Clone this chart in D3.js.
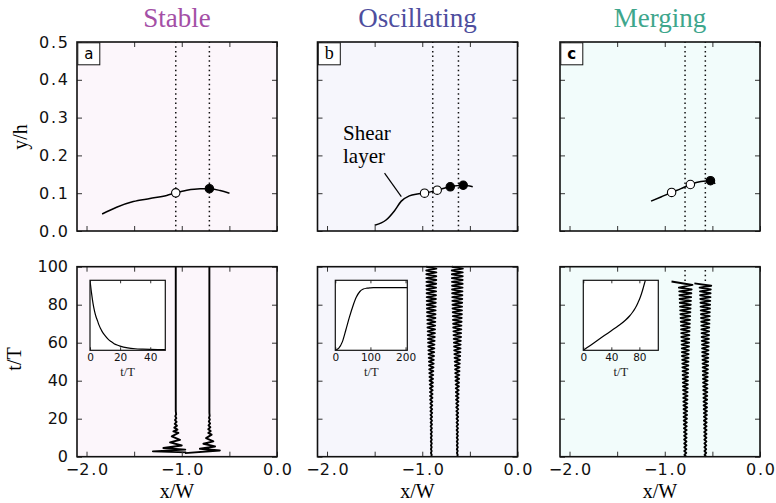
<!DOCTYPE html>
<html><head><meta charset="utf-8">
<script src="https://cdn.jsdelivr.net/npm/d3@7"></script>
<style>body{margin:0;background:#fff}svg{display:block}</style>
</head><body><svg id="chart" width="776" height="503"></svg>
<script>
// ---------------- DATA ----------------
const panelTitles = ["Stable", "Oscillating", "Merging"];
const panelLetters = ["a", "b", "c"];
const xTicks = [-2, -1.5, -1, -0.5, 0];
const xTickLabels = ["−2.0", "", "−1.0", "", "0.0"];
const yTopTicks = [0, 0.1, 0.2, 0.3, 0.4, 0.5];
const yTopTickLabels = ["0.0", "0.1", "0.2", "0.3", "0.4", "0.5"];
const yBotTicks = [0, 20, 40, 60, 80, 100];
const yBotTickLabels = ["0", "20", "40", "60", "80", "100"];

// dotted reference positions (x/W)
const dottedA = [-1.063, -0.71];
const dottedB = [-0.89, -0.62];
const dottedC = [-0.787, -0.574];

// shear layer profiles (x/W, y/h)
const curveAX = [-1.836, -1.684, -1.509, -1.334, -1.158, -1.063, -0.947, -0.807, -0.71, -0.597, -0.499];
const curveAY = [0.045, 0.063, 0.078, 0.086, 0.094, 0.101, 0.108, 0.112, 0.112, 0.107, 0.100];
const curveBX = [-1.50, -1.38, -1.293, -1.22, -1.136, -1.052, -0.976, -0.843, -0.706, -0.57, -0.47];
const curveBY = [0.015, 0.029, 0.053, 0.079, 0.093, 0.098, 0.100, 0.108, 0.117, 0.121, 0.117];
const curveCX = [-1.144, -1.04, -0.928, -0.83, -0.731, -0.62, -0.52, -0.47];
const curveCY = [0.079, 0.090, 0.102, 0.112, 0.123, 0.131, 0.133, 0.125];

// markers: open / filled
const openA = [[-1.063, 0.101]];
const filledA = [[-0.71, 0.112]];
const openB = [[-0.976, 0.100], [-0.843, 0.108]];
const filledB = [[-0.706, 0.117], [-0.57, 0.121]];
const openC = [[-0.928, 0.102], [-0.731, 0.123]];
const filledC = [[-0.52, 0.133]];

// vortex trajectories: centre x/W and zigzag vertices (t/T, offset x/W)
const centersA = [-1.063, -0.71];
const aLeftT = [2.3, 2.8, 3.7, 4.6, 5.9, 7.5, 8.9, 10.7, 12.5, 13.3, 14.3, 15.3, 16.3, 17.3, 18.3, 19.3, 20.3, 21.3, 22.3, 24, 100];
const aLeftX = [0.11, -0.24, 0.10, -0.13, 0.063, -0.06, 0.045, -0.042, 0.028, -0.025, 0.018, -0.016, 0.013, -0.011, 0.009, -0.008, 0.006, -0.005, 0.004, 0, 0];
const aRightT = [1.9, 3.3, 4.2, 5.4, 6.8, 8.1, 9.8, 11.6, 12.5, 13.5, 14.5, 15.5, 16.5, 17.5, 18.5, 19.5, 20.5, 21.5, 23, 100];
const aRightX = [-0.256, 0.11, -0.10, 0.06, -0.063, 0.042, -0.035, 0.024, -0.012, 0.014, -0.012, 0.01, -0.009, 0.008, -0.006, 0.005, -0.004, 0.003, 0, 0];

const centersB = [-0.905, -0.632];
const bT = [0,1,2,3,4,5,6,7,8,9,10,11,12,13,14,15,16,17,18,19,20,21,22,23,24,25,26,27,28,29,30,31,32,33,34,35,36,37,38,39,40,41,42,43,44,45,46,47,48,49,50,51,52,53,54,55,56,57,58,59,60,61,62,63,64,65,66,67,68,69,70,71,72,73,74,75,76,77,78,79,80,81,82,83,84,85,86,87,88,89,90,91,92,93,94,95,96,97,98,99,100];
const bLeftX = [
  0, 0.004, -0.004, 0.004, -0.004, 0.004, -0.004, 0.005, -0.005, 0.005,
  -0.005, 0.005, -0.006, 0.006, -0.006, 0.006, -0.007, 0.007, -0.007, 0.007,
  -0.008, 0.008, -0.008, 0.009, -0.009, 0.009, -0.010, 0.010, -0.010, 0.011,
  -0.012, 0.012, -0.013, 0.013, -0.014, 0.014, -0.015, 0.016, -0.016, 0.017,
  -0.018, 0.018, -0.019, 0.020, -0.021, 0.021, -0.022, 0.023, -0.024, 0.025,
  -0.025, 0.026, -0.027, 0.028, -0.029, 0.030, -0.031, 0.032, -0.032, 0.033,
  -0.034, 0.035, -0.035, 0.036, -0.037, 0.038, -0.038, 0.039, -0.040, 0.040,
  -0.041, 0.042, -0.042, 0.043, -0.044, 0.044, -0.045, 0.045, -0.046, 0.046,
  -0.047, 0.047, -0.048, 0.048, -0.048, 0.049, -0.049, 0.050, -0.050, 0.050,
  -0.051, 0.051, -0.051, 0.052, -0.052, 0.052, -0.052, 0.053, -0.053, 0.053,
  -0.053];
const bRightX = [
  0, 0.004, -0.004, 0.004, -0.005, 0.005, -0.005, 0.005, -0.005, 0.006,
  -0.006, 0.006, -0.006, 0.007, -0.007, 0.007, -0.007, 0.008, -0.008, 0.008,
  -0.008, 0.009, -0.009, 0.009, -0.010, 0.010, -0.011, 0.011, -0.011, 0.012,
  -0.013, 0.013, -0.014, 0.014, -0.015, 0.015, -0.016, 0.017, -0.017, 0.018,
  -0.019, 0.019, -0.020, 0.021, -0.022, 0.023, -0.023, 0.024, -0.025, 0.026,
  -0.027, 0.028, -0.029, 0.030, -0.031, 0.032, -0.033, 0.034, -0.034, 0.035,
  -0.036, 0.037, -0.038, 0.039, -0.040, 0.040, -0.041, 0.042, -0.043, 0.043,
  -0.044, 0.045, -0.046, 0.046, -0.047, 0.048, -0.048, 0.049, -0.050, 0.050,
  -0.051, 0.051, -0.052, 0.052, -0.053, 0.053, -0.054, 0.054, -0.055, 0.055,
  -0.055, 0.056, -0.056, 0.056, -0.057, 0.057, -0.057, 0.057, -0.058, 0.058,
  -0.058];

const centersC = [-0.784, -0.574];
const cLeftT = [0,1,2,3,4,5,6,7,8,9,10,11,12,13,14,15,16,17,18,19,20,21,22,23,24,25,26,27,28,29,30,31,32,33,34,35,36,37,38,39,40,41,42,43,44,45,46,47,48,49,50,51,52,53,54,55,56,57,58,59,60,61,62,63,64,65,66,67,68,69,70,71,72,73,74,75,76,77,78,79,80,81,82,83,84,85,86,87,88,89,90.4,92.2];
const cLeftX = [
  0.010, -0.010, 0.010, -0.011, 0.011, -0.011, 0.012, -0.012, 0.012, -0.013,
  0.013, -0.013, 0.014, -0.014, 0.014, -0.015, 0.015, -0.016, 0.016, -0.017,
  0.017, -0.018, 0.018, -0.018, 0.019, -0.019, 0.020, -0.020, 0.021, -0.021,
  0.022, -0.022, 0.023, -0.023, 0.024, -0.024, 0.025, -0.025, 0.026, -0.026,
  0.027, -0.027, 0.028, -0.028, 0.029, -0.029, 0.030, -0.031, 0.031, -0.032,
  0.033, -0.033, 0.034, -0.035, 0.035, -0.036, 0.037, -0.037, 0.038, -0.039,
  0.040, -0.040, 0.041, -0.042, 0.042, -0.043, 0.044, -0.045, 0.046, -0.046,
  0.047, -0.048, 0.049, -0.050, 0.051, -0.052, 0.053, -0.054, 0.055, -0.056,
  0.057, -0.058, 0.059, -0.060, 0.061, -0.062, 0.063, -0.064, 0.066,
  -0.068, 0.075, -0.145];
const cRightT = [0,1,2,3,4,5,6,7,8,9,10,11,12,13,14,15,16,17,18,19,20,21,22,23,24,25,26,27,28,29,30,31,32,33,34,35,36,37,38,39,40,41,42,43,44,45,46,47,48,49,50,51,52,53,54,55,56,57,58,59,60,61,62,63,64,65,66,67,68,69,70,71,72,73,74,75,76,77,78,79,80,81,82,83,84,85,86,87,88,89,90.0,91.2];
const cRightX = [
  0.008, -0.008, 0.009, -0.009, 0.009, -0.010, 0.010, -0.010, 0.011, -0.011,
  0.011, -0.012, 0.012, -0.012, 0.013, -0.013, 0.013, -0.014, 0.014, -0.015,
  0.015, -0.015, 0.016, -0.016, 0.017, -0.017, 0.018, -0.018, 0.018, -0.019,
  0.019, -0.020, 0.020, -0.021, 0.021, -0.022, 0.022, -0.023, 0.023, -0.024,
  0.024, -0.025, 0.025, -0.026, 0.026, -0.027, 0.027, -0.028, 0.029, -0.029,
  0.030, -0.030, 0.031, -0.032, 0.032, -0.033, 0.033, -0.034, 0.035, -0.035,
  0.036, -0.037, 0.037, -0.038, 0.039, -0.039, 0.040, -0.041, 0.041, -0.042,
  0.043, -0.043, 0.044, -0.045, 0.046, -0.046, 0.047, -0.048, 0.049, -0.050,
  0.050, -0.051, 0.052, -0.053, 0.054, -0.055, 0.055, -0.056, 0.057,
  -0.060, 0.062, -0.115];
const cDottedFrom = 92.5;

// insets (t/T, normalised quantity)
const insetAT = [0, 1, 2, 3, 4, 5, 6, 7, 8, 10, 12, 14, 16, 18, 20, 25, 30, 35, 40, 45, 50];
const insetAY = [1.0, 0.82, 0.67, 0.56, 0.48, 0.42, 0.36, 0.31, 0.27, 0.21, 0.16, 0.125, 0.095, 0.075, 0.06, 0.035, 0.022, 0.016, 0.012, 0.01, 0.01];
const insetATicks = [0, 20, 40];
const insetBT = [0, 10, 20, 30, 40, 50, 60, 70, 80, 90, 100, 110, 120, 140, 160, 180, 205];
const insetBY = [0, 0.03, 0.12, 0.29, 0.47, 0.63, 0.76, 0.84, 0.875, 0.888, 0.893, 0.895, 0.896, 0.896, 0.896, 0.896, 0.896];
const insetBTicks = [0, 100, 200];
const insetCT = [0, 10, 20, 30, 40, 50, 60, 66, 70, 74, 78, 81, 84, 86, 88, 90];
const insetCY = [0, 0.07, 0.14, 0.21, 0.28, 0.35, 0.43, 0.49, 0.54, 0.60, 0.68, 0.75, 0.84, 0.91, 0.98, 1.05];
const insetCTicks = [0, 40, 80];

const annotationText = ["Shear", "layer"];
const annotationArrow = [[-1.396, 0.153], [-1.22, 0.091]];

// ---------------- LAYOUT / STYLE ----------------
const svg = d3.select("#chart");
svg.append("rect").attr("width", 776).attr("height", 503).attr("fill", "#fff");

const panelLeft = [77, 317.5, 560];
const panelW = 200;
const topBox = [42, 231];
const botBox = [266.7, 456.7];
const bgColors = ["#fcf6fb", "#f6f6fc", "#f2fcfb"];
const titleColors = ["#a44fa6", "#4e4e9e", "#3ea68c"];
const insetBoxes = [[90, 165.3], [335.3, 407.3], [583.3, 658.3]];
const insetY = [280.3, 350.3];
const insetDomains = [[0, 50], [0, 205], [0, 107]];
const SANS = "DejaVu Sans";
const SERIF = "Liberation Serif";

const panels = [
  {dotted: dottedA, cx: curveAX, cy: curveAY, open: openA, filled: filledA,
   centers: centersA, lines: [[aLeftT, aLeftX], [aRightT, aRightX]],
   inset: [insetAT, insetAY, insetATicks]},
  {dotted: dottedB, cx: curveBX, cy: curveBY, open: openB, filled: filledB,
   centers: centersB, lines: [[bT, bLeftX], [bT, bRightX]],
   inset: [insetBT, insetBY, insetBTicks]},
  {dotted: dottedC, cx: curveCX, cy: curveCY, open: openC, filled: filledC,
   centers: centersC, lines: [[cLeftT, cLeftX], [cRightT, cRightX]],
   inset: [insetCT, insetCY, insetCTicks]}
];

function spacedLabel(sel) {
  sel.each(function () {
    const t = d3.select(this);
    const s = t.text();
    if (s.indexOf(".") < 0) return;
    const parts = s.split(".");
    t.text(null);
    t.append("tspan").text(parts[0]);
    t.append("tspan").attr("dx", 1.8).text(".");
    t.append("tspan").attr("dx", 1.8).text(parts[1]);
  });
}

function styleAxis(g, labelSize) {
  g.select(".domain").remove();
  g.selectAll(".tick line").attr("stroke", "#333").attr("stroke-width", 1);
  g.selectAll(".tick text").attr("font-family", SANS).attr("font-size", labelSize)
    .attr("fill", "#111");
}

function frameAxes(g, x, y, box, opts) {
  const L = x.range()[0], R = x.range()[1];
  const fmtX = (d, i) => opts.xLabels ? xTickLabels[i] : "";
  const gb = g.append("g").attr("transform", `translate(0,${box[1]})`)
    .call(d3.axisBottom(x).tickValues(xTicks).tickFormat(fmtX).tickSizeInner(-5).tickSizeOuter(0).tickPadding(7));
  styleAxis(gb, 16); spacedLabel(gb.selectAll(".tick text"));
  const gt = g.append("g").attr("transform", `translate(0,${box[0]})`)
    .call(d3.axisTop(x).tickValues(xTicks).tickFormat("").tickSizeInner(-5).tickSizeOuter(0));
  styleAxis(gt, 16);
  const gl = g.append("g").attr("transform", `translate(${L},0)`)
    .call(d3.axisLeft(y).tickValues(opts.yTicks)
      .tickFormat((d, i) => opts.yLabels ? opts.yTickLabels[i] : "")
      .tickSizeInner(-5).tickSizeOuter(0).tickPadding(9));
  styleAxis(gl, 16); spacedLabel(gl.selectAll(".tick text"));
  const gr = g.append("g").attr("transform", `translate(${R},0)`)
    .call(d3.axisRight(y).tickValues(opts.yTicks).tickFormat("").tickSizeInner(-5).tickSizeOuter(0));
  styleAxis(gr, 16);
  g.append("rect").attr("x", L).attr("y", box[0]).attr("width", R - L).attr("height", box[1] - box[0])
    .attr("fill", "none").attr("stroke", "#111").attr("stroke-width", 1.6);
}

panels.forEach((p, i) => {
  const L = panelLeft[i];
  const x = d3.scaleLinear().domain([-2.1, 0]).range([L, L + panelW]);
  const yT = d3.scaleLinear().domain([0, 0.5]).range([topBox[1], topBox[0]]);
  const yB = d3.scaleLinear().domain([0, 100]).range([botBox[1], botBox[0]]);

  // title
  svg.append("text").attr("x", L + panelW / 2).attr("y", 27).attr("text-anchor", "middle")
    .attr("font-family", SERIF).attr("font-size", 27).attr("fill", titleColors[i]).text(panelTitles[i]);

  // ---- top panel ----
  const gT = svg.append("g");
  gT.append("rect").attr("x", L).attr("y", topBox[0]).attr("width", panelW)
    .attr("height", topBox[1] - topBox[0]).attr("fill", bgColors[i]);
  p.dotted.forEach(d => {
    gT.append("line").attr("x1", x(d)).attr("x2", x(d)).attr("y1", yT(0)).attr("y2", yT(0.5))
      .attr("stroke", "#111").attr("stroke-width", 1.5).attr("stroke-dasharray", "1.5,3.2");
  });
  const pts = p.cx.map((v, k) => [v, p.cy[k]]);
  gT.append("path").datum(pts)
    .attr("d", d3.line().x(d => x(d[0])).y(d => yT(d[1])).curve(d3.curveMonotoneX))
    .attr("fill", "none").attr("stroke", "#000").attr("stroke-width", 1.5);
  p.open.forEach(d => gT.append("circle").attr("cx", x(d[0])).attr("cy", yT(d[1])).attr("r", 4.2)
    .attr("fill", "#fff").attr("stroke", "#000").attr("stroke-width", 1.1));
  p.filled.forEach(d => gT.append("circle").attr("cx", x(d[0])).attr("cy", yT(d[1])).attr("r", 4.2)
    .attr("fill", "#000").attr("stroke", "#000").attr("stroke-width", 1.1));
  if (i === 1) {
    gT.append("line").attr("x1", x(annotationArrow[0][0])).attr("y1", yT(annotationArrow[0][1]))
      .attr("x2", x(annotationArrow[1][0])).attr("y2", yT(annotationArrow[1][1]))
      .attr("stroke", "#000").attr("stroke-width", 1.2);
    gT.append("text").attr("x", 343).attr("y", 140).attr("font-family", SERIF).attr("font-size", 21)
      .text(annotationText[0]);
    gT.append("text").attr("x", 343).attr("y", 163).attr("font-family", SERIF).attr("font-size", 21)
      .text(annotationText[1]);
  }
  frameAxes(gT, x, yT, topBox, {xLabels: false, yLabels: i === 0, yTicks: yTopTicks, yTickLabels: yTopTickLabels});
  // panel letter
  gT.append("rect").attr("x", L + 0.8).attr("y", topBox[0] + 0.8).attr("width", 22).attr("height", 22)
    .attr("fill", "#fff").attr("stroke", "#111").attr("stroke-width", 1);
  gT.append("text").attr("x", L + 11.8).attr("y", topBox[0] + 17)
    .attr("text-anchor", "middle")
    .attr("font-family", i === 1 ? SERIF : SANS)
    .attr("font-weight", i === 2 ? "bold" : "normal")
    .attr("font-size", i === 1 ? 18 : 15).text(panelLetters[i]);

  // ---- bottom panel ----
  const gB = svg.append("g");
  gB.append("rect").attr("x", L).attr("y", botBox[0]).attr("width", panelW)
    .attr("height", botBox[1] - botBox[0]).attr("fill", bgColors[i]);
  if (i === 2) {
    p.dotted.forEach(d => {
      gB.append("line").attr("x1", x(d)).attr("x2", x(d)).attr("y1", yB(cDottedFrom)).attr("y2", yB(100))
        .attr("stroke", "#111").attr("stroke-width", 1.5).attr("stroke-dasharray", "1.5,3.2");
    });
  }
  p.lines.forEach((ln, k) => {
    const c = p.centers[k];
    const data = ln[0].map((t, j) => [c + ln[1][j], t]);
    gB.append("path").datum(data)
      .attr("d", d3.line().x(d => x(d[0])).y(d => yB(d[1])))
      .attr("fill", "none").attr("stroke", "#000").attr("stroke-width", 1.9)
      .attr("stroke-linejoin", "round");
  });
  // inset
  const ib = insetBoxes[i];
  const ix = d3.scaleLinear().domain(insetDomains[i]).range(ib);
  const iy = d3.scaleLinear().domain([0, 1]).range([insetY[1], insetY[0]]);
  const clipId = "clip" + i;
  gB.append("clipPath").attr("id", clipId).append("rect")
    .attr("x", ib[0]).attr("y", insetY[0]).attr("width", ib[1] - ib[0]).attr("height", insetY[1] - insetY[0]);
  gB.append("rect").attr("x", ib[0]).attr("y", insetY[0]).attr("width", ib[1] - ib[0])
    .attr("height", insetY[1] - insetY[0]).attr("fill", "#fff");
  const ip = p.inset[0].map((t, j) => [t, p.inset[1][j]]);
  gB.append("path").datum(ip).attr("clip-path", `url(#${clipId})`)
    .attr("d", d3.line().x(d => ix(d[0])).y(d => iy(d[1])).curve(d3.curveMonotoneX))
    .attr("fill", "none").attr("stroke", "#000").attr("stroke-width", 1.2);
  const ig = gB.append("g").attr("transform", `translate(0,${insetY[1]})`)
    .call(d3.axisBottom(ix).tickValues(p.inset[2]).tickSizeInner(-3).tickSizeOuter(0).tickPadding(3.5).tickFormat(d3.format("d")));
  styleAxis(ig, 10.5);
  const ig2 = gB.append("g").attr("transform", `translate(0,${insetY[0]})`)
    .call(d3.axisTop(ix).tickValues(p.inset[2]).tickSizeInner(-3).tickSizeOuter(0).tickFormat(""));
  styleAxis(ig2, 10.5);
  gB.append("rect").attr("x", ib[0]).attr("y", insetY[0]).attr("width", ib[1] - ib[0])
    .attr("height", insetY[1] - insetY[0]).attr("fill", "none").attr("stroke", "#111").attr("stroke-width", 1.2);
  gB.append("text").attr("x", (ib[0] + ib[1]) / 2).attr("y", 376).attr("text-anchor", "middle")
    .attr("font-family", SERIF).attr("font-size", 12.5).attr("fill", "#222").text("t/T");

  frameAxes(gB, x, yB, botBox, {xLabels: true, yLabels: i === 0, yTicks: yBotTicks, yTickLabels: yBotTickLabels});

  // x label
  svg.append("text").attr("x", L + panelW / 2).attr("y", 498).attr("text-anchor", "middle")
    .attr("font-family", SERIF).attr("font-size", 20).text("x/W");
});

// y labels
svg.append("text").attr("transform", "translate(27,137) rotate(-90)").attr("text-anchor", "middle")
  .attr("font-family", SERIF).attr("font-size", 20).text("y/h");
svg.append("text").attr("transform", "translate(21,359) rotate(-90)").attr("text-anchor", "middle")
  .attr("font-family", SERIF).attr("font-size", 20).text("t/T");
</script>
</body></html>
